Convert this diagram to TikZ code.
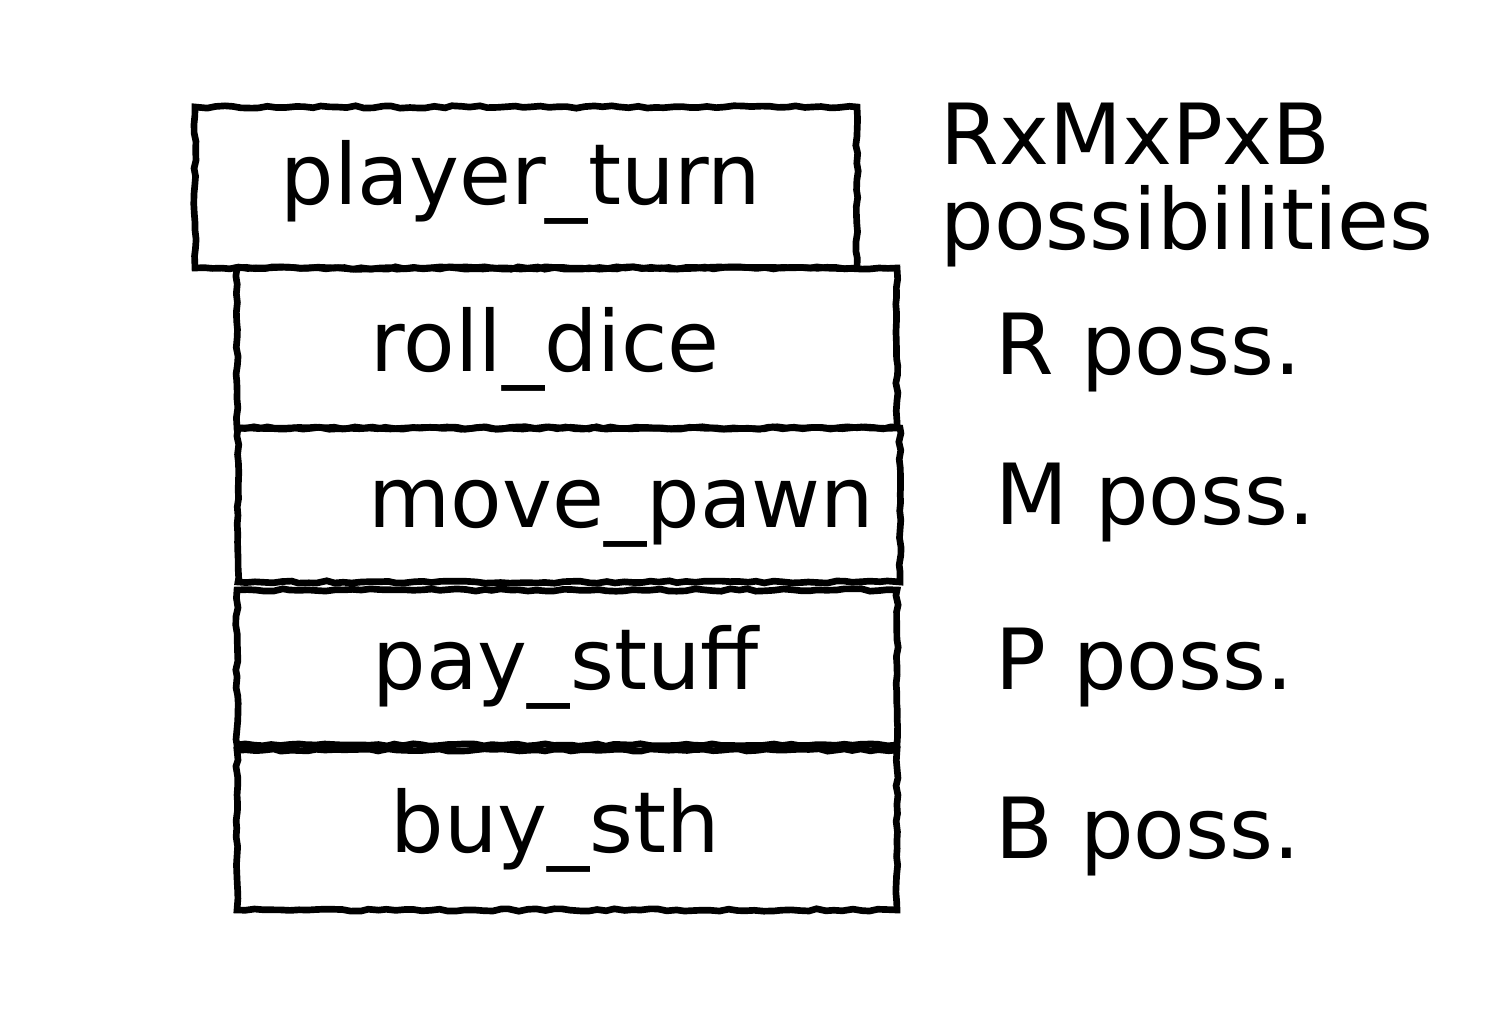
\documentclass[tikz,border=0pt]{standalone}
\usepackage{fontspec}
\setmainfont{DejaVu Sans}
\usetikzlibrary{positioning, decorations.pathmorphing}

\tikzset{
  stepbox/.style={draw, line width=1.9pt, rectangle, inner sep=0pt,
    decorate, decoration={random steps, segment length=2.5pt, amplitude=0.35pt}},
  txt/.style={anchor=base west, inner sep=0pt, font=\fontsize{24}{28}\selectfont}
}

\begin{document}
\begin{tikzpicture}
  \useasboundingbox (0,0) rectangle (15.05,10.25);

  % Boxes
  \node[stepbox, minimum width=6.62cm, minimum height=1.61cm] (turn) at (5.26,8.375) {};
  \node[stepbox, minimum width=6.60cm, minimum height=1.60cm] (roll) at (5.67,6.77) {};
  \node[stepbox, minimum width=6.62cm, minimum height=1.54cm] (move) at (5.69,5.20) {};
  \node[stepbox, minimum width=6.60cm, minimum height=1.55cm] (pay) at (5.67,3.575) {};
  \node[stepbox, minimum width=6.60cm, minimum height=1.60cm] (buy) at (5.67,1.95) {};

  % Box labels
  \node[txt] (turnlbl) at (2.80,8.20) {player\_turn};
  \node[txt] (rolllbl) at (3.70,6.53) {roll\_dice};
  \node[txt] (movelbl) at (3.68,4.97) {move\_pawn};
  \node[txt] (paylbl) at (3.72,3.35) {pay\_stuff};
  \node[txt] (buylbl) at (3.90,1.73) {buy\_sth};

  % Possibilities
  \node[txt] (total) at (9.40,8.60) {RxMxPxB};
  \node[txt] (totalb) at (9.40,7.75) {possibilities};
  \node[txt] (rposs) at (9.95,6.50) {R poss.};
  \node[txt] (mposs) at (9.95,5.00) {M poss.};
  \node[txt] (pposs) at (9.95,3.35) {P poss.};
  \node[txt] (bposs) at (9.95,1.67) {B poss.};
\end{tikzpicture}
\end{document}
